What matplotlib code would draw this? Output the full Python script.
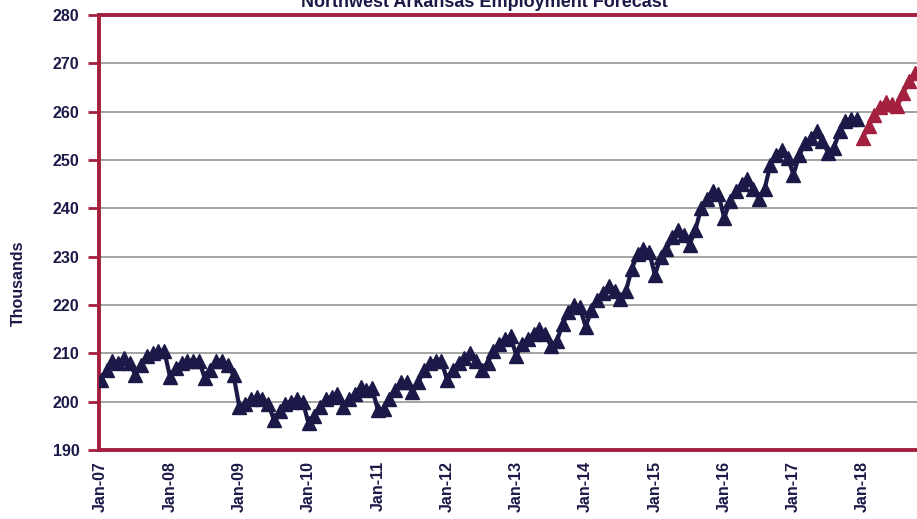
import matplotlib
matplotlib.use("Agg")
import matplotlib.pyplot as plt
import numpy as np

plt.rcParams['font.family'] = ['Liberation Sans', 'DejaVu Sans']

NAVY = '#1b1947'
CRIMSON = '#a3203e'

# Monthly employment (thousands), Jan-07 .. Dec-17 (actual)
actual = [
    204.5, 206.5, 208.5, 208.0, 209.0, 208.0, 205.5, 207.5, 209.5, 210.0, 210.5, 210.5,  # 2007
    205.2, 207.0, 208.0, 208.5, 208.5, 208.5, 205.0, 206.5, 208.5, 208.5, 207.5, 205.5,  # 2008
    199.0, 199.5, 200.5, 201.0, 200.5, 199.5, 196.3, 198.0, 199.5, 200.0, 200.5, 200.0,  # 2009
    195.5, 197.0, 199.0, 200.5, 201.0, 201.5, 198.8, 200.5, 201.5, 203.0, 202.5, 202.8,  # 2010
    198.3, 198.5, 200.5, 202.5, 204.0, 204.0, 202.0, 204.0, 206.5, 208.0, 208.5, 208.5,  # 2011
    204.5, 206.5, 208.0, 209.0, 210.0, 208.5, 206.5, 208.0, 210.5, 212.0, 213.0, 213.5,  # 2012
    209.5, 212.0, 213.0, 214.0, 215.0, 214.0, 211.5, 212.5, 216.0, 218.5, 220.0, 219.5,  # 2013
    215.5, 219.0, 221.0, 222.5, 224.0, 223.0, 221.2, 223.0, 227.5, 230.5, 231.5, 231.0,  # 2014
    226.2, 230.0, 231.5, 234.0, 235.5, 234.5, 232.5, 235.5, 240.0, 242.0, 243.5, 243.0,  # 2015
    238.0, 241.5, 243.5, 245.0, 246.0, 244.0, 242.0, 244.0, 249.0, 251.0, 252.0, 250.5,  # 2016
    247.0, 251.0, 253.5, 254.5, 256.0, 254.0, 251.5, 252.5, 256.0, 258.0, 258.5, 258.5,  # 2017
]
# Forecast, Jan-18 .. Dec-18
forecast = [254.5, 257.0, 259.3, 261.0, 262.0, 261.5, 261.2, 263.8, 266.3, 268.0, 269.0, 270.0]

tick_labels = ['Jan-07', 'Jan-08', 'Jan-09', 'Jan-10', 'Jan-11', 'Jan-12',
               'Jan-13', 'Jan-14', 'Jan-15', 'Jan-16', 'Jan-17', 'Jan-18']

x_act = np.arange(len(actual))
x_fc = np.arange(len(actual), len(actual) + len(forecast))

fig = plt.figure(figsize=(9.17, 5.19), dpi=100)
ax = fig.add_axes([99/917, 1 - 450/519, 1 - 99/917, (450 - 15)/519])

ax.plot(x_act, actual, color=NAVY, lw=3.0, marker='^', ms=10.5, mfc=NAVY, mec=NAVY, zorder=3)
ax.plot(x_fc, forecast, color=CRIMSON, lw=3.0, marker='^', ms=10.5, mfc=CRIMSON, mec=CRIMSON, zorder=3)

ax.set_ylim(190, 280)
ax.set_yticks(np.arange(190, 281, 10))
ax.set_xlim(-0.3, 141.4)
ax.set_xticks(np.arange(0, 12 * len(tick_labels), 12))
ax.set_xticklabels(tick_labels, rotation=90, fontweight='bold', color=NAVY, fontsize=11.5)
ax.tick_params(axis='x', length=0, pad=8)
ax.tick_params(axis='y', length=8, width=2, color=CRIMSON, labelcolor=NAVY, labelsize=11.5, pad=6)
for lab in ax.get_yticklabels():
    lab.set_fontweight('bold')

ax.grid(axis='y', color='#8c8c8c', lw=1.1, zorder=0)
ax.set_axisbelow(True)
for side in ['left', 'bottom', 'top']:
    ax.spines[side].set_color(CRIMSON)
    ax.spines[side].set_linewidth(2.8)
ax.spines['right'].set_visible(False)

fig.text(18/917, 1 - 283/519, 'Thousands', rotation=90, ha='center', va='center',
         fontweight='bold', color=NAVY, fontsize=11.5)
fig.text(484/917, 1 - 7/519, 'Northwest Arkansas Employment Forecast', ha='center',
         va='baseline', fontweight='bold', color=NAVY, fontsize=13)

fig.savefig('out.png', dpi=100)
